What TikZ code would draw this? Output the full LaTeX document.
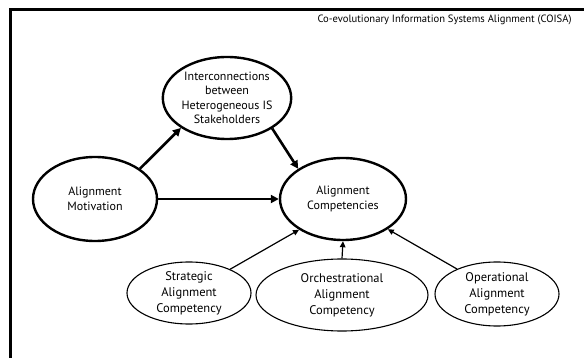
\documentclass[tikz,border=0pt]{standalone}
\usepackage{fontspec}
\setmainfont{PT Sans}
\usetikzlibrary{shapes.geometric,arrows.meta}
\begin{document}
\begin{tikzpicture}[x=1pt,y=-1pt,
  construct/.style={ellipse,draw,line width=2.4pt,inner sep=0pt,align=center,
    font=\fontsize{12}{14.5}\selectfont},
  component/.style={ellipse,draw,line width=1.1pt,inner sep=0pt,align=center,
    font=\fontsize{12.5}{16}\selectfont},
  strong/.style={line width=2.6pt,-{Triangle[length=8pt,width=8pt]}},
  weak/.style={line width=1.2pt,-{Triangle[length=6pt,width=5.5pt]}}]
\useasboundingbox (0,0) rectangle (584,358);
% frame
\draw[line width=3pt] (10,358) -- (10,9.3) -- (584,9.3);
\node[anchor=east,font=\fontsize{10.6}{13}\selectfont] (title) at (575,20)
  {Co-evolutionary Information Systems Alignment (COISA)};
% core constructs
\node[construct,minimum width=122pt,minimum height=82pt] (inter) at (227,98)
  {Interconnections\\between\\Heterogeneous IS\\Stakeholders};
\node[construct,minimum width=124pt,minimum height=84pt] (mot) at (95,199)
  {Alignment\\Motivation};
\node[construct,minimum width=126pt,minimum height=82pt] (comp) at (343,199)
  {Alignment\\Competencies};
% competency components
\node[component,minimum width=124pt,minimum height=62pt] (strat) at (189,293)
  {Strategic\\Alignment\\Competency};
\node[component,minimum width=172pt,minimum height=72pt] (orch) at (342,295)
  {Orchestrational\\Alignment\\Competency};
\node[component,minimum width=124pt,minimum height=64pt] (oper) at (497,294)
  {Operational\\Alignment\\Competency};
% relations
\draw[strong] (mot.34) -- (inter.213);
\draw[strong] (inter.326) -- (comp.146);
\draw[strong] (mot.east) -- (comp.west);
\draw[weak] (strat.30) -- (comp.215);
\draw[weak] (orch.north) -- (comp.south);
\draw[weak] (oper.148) -- (comp.326);
\end{tikzpicture}
\end{document}
